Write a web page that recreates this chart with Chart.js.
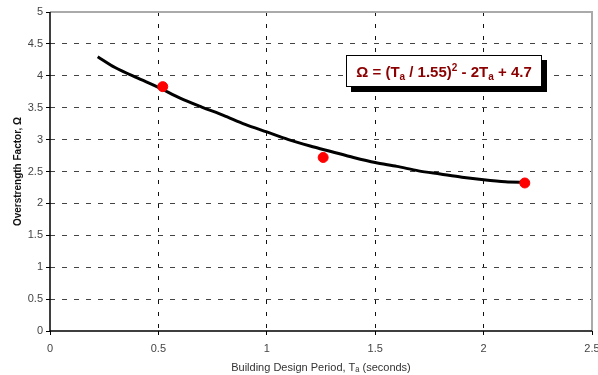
<!DOCTYPE html>
<html>
<head>
<meta charset="utf-8">
<script src="https://cdn.jsdelivr.net/npm/chart.js@4/dist/chart.umd.min.js"></script>
<style>
  body { margin: 0; background: #fff; }
  .wrap { position: relative; width: 598px; height: 375px; }
  .eqn {
    position: absolute; left: 346px; top: 55px; width: 196px; height: 32px;
    border: 1px solid #000; background: #fff; box-shadow: 5px 5px 0 #000;
    font: bold 15px "Liberation Sans", Arial, sans-serif; color: #8b0000;
    line-height: 32px; text-align: center; box-sizing: border-box;
  }
  .eqn sub { font-size: 10px; vertical-align: -3px; line-height: 0; }
  .eqn sup { font-size: 10px; vertical-align: 6px; line-height: 0; }
</style>
</head>
<body>
<div class="wrap">
  <canvas id="chart1" width="598" height="375"></canvas>
  <div class="eqn">Ω = (T<sub>a</sub> / 1.55)<sup>2</sup> - 2T<sub>a</sub> + 4.7</div>
</div>
<script>
// Datos
const curvePeriods = [0.22, 0.3, 0.4, 0.5, 0.6, 0.7, 0.8, 0.9, 1.0, 1.1, 1.2, 1.3, 1.4, 1.5, 1.6, 1.7, 1.8, 1.9, 2.0, 2.1, 2.2];
const curveOmega   = [4.30, 4.13, 3.97, 3.82, 3.65, 3.51, 3.38, 3.24, 3.12, 3.00, 2.90, 2.81, 2.72, 2.64, 2.58, 2.51, 2.46, 2.41, 2.37, 2.34, 2.33];
const pointPeriods = [0.52, 1.26, 2.19];
const pointOmega   = [3.83, 2.72, 2.32];
const xTicks = [0, 0.5, 1, 1.5, 2, 2.5];
const yTicks = [0, 0.5, 1, 1.5, 2, 2.5, 3, 3.5, 4, 4.5, 5];

const curveData = curvePeriods.map((t, i) => ({ x: t, y: curveOmega[i] }));
const pointData = pointPeriods.map((t, i) => ({ x: t, y: pointOmega[i] }));

// Marco: ejes negros a la izquierda/abajo, borde gris arriba/derecha
const frameBorder = {
    id: 'frameBorder',
    beforeDatasetsDraw(chart) {
        const a = chart.chartArea;
        const c = chart.ctx;
        c.save();
        c.setLineDash([]);
        c.strokeStyle = '#aaa';
        c.lineWidth = 2;
        c.beginPath();
        c.moveTo(a.left, a.top);
        c.lineTo(a.right, a.top);
        c.lineTo(a.right, a.bottom);
        c.stroke();
        c.strokeStyle = '#000';
        c.lineWidth = 1.5;
        c.beginPath();
        c.moveTo(a.left, a.top);
        c.lineTo(a.left, a.bottom);
        c.lineTo(a.right, a.bottom);
        c.stroke();
        c.restore();
    }
};

const ctx1 = document.getElementById('chart1').getContext('2d');
let chart1 = new Chart(ctx1, {
    type: 'scatter',
    data: {
        datasets: [{
            type: 'line',
            data: curveData,
            borderColor: '#000',
            borderWidth: 3,
            pointRadius: 0,
            tension: 0.3,
            order: 2
        }, {
            data: pointData,
            backgroundColor: '#ff0000',
            borderColor: '#ff0000',
            pointRadius: 5,
            order: 1
        }]
    },
    options: {
        responsive: false,
        animation: false,
        layout: { padding: { top: 12, right: 1, left: 12, bottom: 0 } },
        plugins: { legend: { display: false }, tooltip: { enabled: false } },
        scales: {
            x: {
                type: 'linear',
                min: 0,
                max: 2.5,
                afterBuildTicks: s => { s.ticks = xTicks.map(v => ({ value: v })); },
                afterFit: s => { s.height = 44; s.paddingLeft = 0; s.paddingRight = 0; },
                border: { display: false, dash: [4, 8] },
                grid: {
                    color: ctx => (ctx.tick && (ctx.tick.value === 0 || ctx.tick.value === 2.5)) ? 'rgba(0,0,0,0)' : '#111',
                    tickLength: 4,
                    tickColor: '#000',
                    tickBorderDash: []
                },
                ticks: {
                    color: '#444',
                    font: { family: 'Liberation Sans', size: 11 },
                    padding: 7,
                    callback: v => String(v)
                },
                title: {
                    display: true,
                    text: 'Building Design Period, Tₐ (seconds)',
                    color: '#333',
                    font: { family: 'Liberation Sans', size: 11 },
                    padding: { top: 3, bottom: 0 }
                }
            },
            y: {
                min: 0,
                max: 5,
                afterBuildTicks: s => { s.ticks = yTicks.map(v => ({ value: v })); },
                afterFit: s => { s.width = 38; s.paddingTop = 0; s.paddingBottom = 0; },
                border: { display: false, dash: [5, 7] },
                grid: {
                    color: ctx => (ctx.tick && (ctx.tick.value === 0 || ctx.tick.value === 5)) ? 'rgba(0,0,0,0)' : '#444',
                    tickLength: 4,
                    tickColor: '#000',
                    tickBorderDash: []
                },
                ticks: {
                    color: '#444',
                    font: { family: 'Liberation Sans', size: 11 },
                    padding: 3,
                    callback: v => String(v)
                },
                title: {
                    display: true,
                    text: 'Overstrength Factor, Ω',
                    color: '#111',
                    font: { family: 'Liberation Sans', size: 10, weight: 'bold' },
                    padding: { top: 0, bottom: 2 }
                }
            }
        }
    },
    plugins: [frameBorder]
});
</script>
</body>
</html>
